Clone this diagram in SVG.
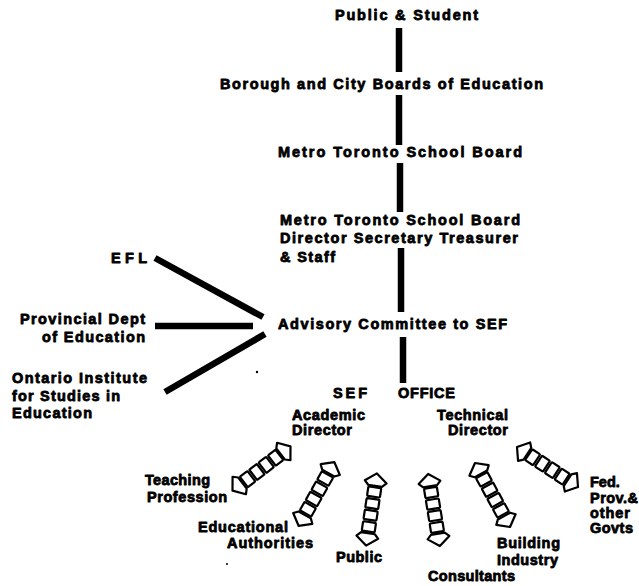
<svg xmlns="http://www.w3.org/2000/svg" xmlns:xlink="http://www.w3.org/1999/xlink" width="639" height="586" viewBox="0 0 639 586">
<style>
text{font-family:"Liberation Sans",Arial,sans-serif;font-weight:bold;font-size:14.5px;fill:#000;stroke:#000;stroke-width:0.8;stroke-linejoin:round}
.bar{stroke:#000;stroke-width:6.5;fill:none}
.arw{fill:#fff;stroke:#000;stroke-width:2.2;stroke-linejoin:round}
</style>
<defs>
<g id="darrow">
<polygon class="arw" points="0,-36.5 11,-28 7,-24 -7,-24 -11,-28"/>
<polygon class="arw" points="0,36.5 11,28 7,24 -7,24 -11,28"/>
<rect class="arw" x="-6.5" y="-22.5" width="13" height="9.5" rx="1"/>
<rect class="arw" x="-6.5" y="-10.75" width="13" height="9.5" rx="1"/>
<rect class="arw" x="-6.5" y="1" width="13" height="9.5" rx="1"/>
<rect class="arw" x="-6.5" y="12.75" width="13" height="9.5" rx="1"/>
</g>
</defs>
<rect width="639" height="586" fill="#fff"/>
<g id="connectors">
<line class="bar" x1="399" y1="28" x2="399" y2="72"/>
<line class="bar" x1="399" y1="95" x2="399" y2="145"/>
<line class="bar" x1="400" y1="163" x2="400" y2="212"/>
<line class="bar" x1="401" y1="248" x2="401" y2="312"/>
<line class="bar" x1="403" y1="337" x2="403" y2="383"/>
<line class="bar" x1="155" y1="258" x2="263" y2="317"/>
<line class="bar" x1="155" y1="326" x2="253" y2="326"/>
<line class="bar" x1="165" y1="392" x2="265" y2="334"/>
<use xlink:href="#darrow" transform="translate(261.5,468.5) rotate(52.6)"/>
<use xlink:href="#darrow" transform="translate(316.5,494) rotate(29.4)"/>
<use xlink:href="#darrow" transform="translate(371.5,509.5) rotate(8.6)"/>
<use xlink:href="#darrow" transform="translate(434,510) rotate(-9.2)"/>
<use xlink:href="#darrow" transform="translate(492.5,495) rotate(-28.7)"/>
<use xlink:href="#darrow" transform="translate(547.5,467) rotate(-56.7)"/>
</g>
<g id="public-student"><text x="335" y="20" textLength="143" lengthAdjust="spacing">Public &amp; Student</text></g>
<g id="borough"><text x="220" y="89" textLength="323" lengthAdjust="spacing">Borough and City Boards of Education</text></g>
<g id="metro-board"><text x="278" y="157" textLength="244" lengthAdjust="spacing">Metro Toronto School Board</text></g>
<g id="metro-director">
<text x="280" y="225" textLength="240" lengthAdjust="spacing">Metro Toronto School Board</text>
<text x="280" y="243" textLength="238" lengthAdjust="spacing">Director Secretary Treasurer</text>
<text x="280" y="262" textLength="55" lengthAdjust="spacing">&amp; Staff</text>
</g>
<g id="advisory"><text x="278" y="329" textLength="229" lengthAdjust="spacing">Advisory Committee to SEF</text></g>
<g id="sef-office">
<text x="333" y="398" textLength="34" lengthAdjust="spacing">SEF</text>
<text x="398" y="398" textLength="57" lengthAdjust="spacing">OFFICE</text>
</g>
<g id="academic-director">
<text x="292" y="420" textLength="73" lengthAdjust="spacing">Academic</text>
<text x="292" y="435" textLength="60" lengthAdjust="spacing">Director</text>
</g>
<g id="technical-director">
<text x="437" y="420" textLength="71" lengthAdjust="spacing">Technical</text>
<text x="448" y="435" textLength="60" lengthAdjust="spacing">Director</text>
</g>
<g id="efl"><text x="111" y="263" textLength="36" lengthAdjust="spacing">EFL</text></g>
<g id="provincial">
<text x="20" y="324" textLength="125" lengthAdjust="spacing">Provincial Dept</text>
<text x="42" y="342" textLength="103" lengthAdjust="spacing">of Education</text>
</g>
<g id="oise">
<text x="12" y="383" textLength="135" lengthAdjust="spacing">Ontario Institute</text>
<text x="12" y="401" textLength="108" lengthAdjust="spacing">for Studies in</text>
<text x="12" y="418" textLength="80" lengthAdjust="spacing">Education</text>
</g>
<g id="teaching">
<text x="145" y="485" textLength="65" lengthAdjust="spacing">Teaching</text>
<text x="147" y="502" textLength="80" lengthAdjust="spacing">Profession</text>
</g>
<g id="educational">
<text x="198" y="532" textLength="90" lengthAdjust="spacing">Educational</text>
<text x="227" y="548" textLength="86" lengthAdjust="spacing">Authorities</text>
</g>
<g id="public"><text x="336" y="562" textLength="46" lengthAdjust="spacing">Public</text></g>
<g id="consultants"><text x="428" y="581" textLength="87" lengthAdjust="spacing">Consultants</text></g>
<g id="building">
<text x="497" y="548" textLength="63" lengthAdjust="spacing">Building</text>
<text x="497" y="565" textLength="61" lengthAdjust="spacing">Industry</text>
</g>
<g id="govts">
<text x="590" y="487">Fed.</text>
<text x="590" y="503" textLength="48" lengthAdjust="spacing">Prov.&amp;</text>
<text x="590" y="518" textLength="40" lengthAdjust="spacing">other</text>
<text x="590" y="533" textLength="43" lengthAdjust="spacing">Govts</text>
</g>
<circle cx="257" cy="372" r="1.2" fill="#000"/>
<circle cx="227" cy="564" r="1" fill="#000"/>
</svg>
